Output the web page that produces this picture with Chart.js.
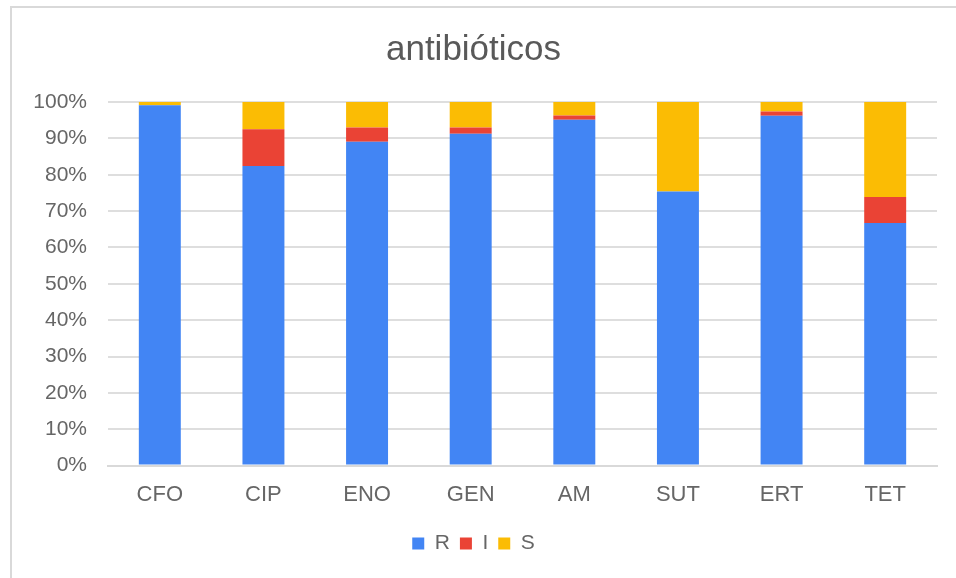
<!DOCTYPE html>
<html>
<head>
<meta charset="utf-8">
<script src="https://cdn.jsdelivr.net/npm/chart.js@4"></script>
<style>
  html, body { margin: 0; padding: 0; background: #fff; overflow: hidden; }
  #wrap { position: relative; width: 956px; height: 578px; }
</style>
</head>
<body>
<div id="wrap"><canvas id="abChart" width="956" height="578"></canvas></div>
<script>
const categories = ["CFO", "CIP", "ENO", "GEN", "AM", "SUT", "ERT", "TET"];
const valuesR = [99.1, 82.4, 89.1, 91.3, 95.1, 75.4, 96.2, 66.7];
const valuesI = [0, 10.1, 3.9, 1.7, 1.2, 0, 1.2, 7.2];
const valuesS = [0.9, 7.5, 7.0, 7.0, 3.7, 24.6, 2.6, 26.1];
const seriesNames = ["R", "I", "S"];
const seriesColors = ["#4285F4", "#EA4335", "#FBBC04"];

const FONT = "'Liberation Sans', Arial, sans-serif";

// outer frame: only left and top edges are visible in the picture
const framePlugin = {
  id: "frame",
  beforeDraw(chart) {
    const { ctx } = chart;
    ctx.save();
    ctx.strokeStyle = "#d9d9d9";
    ctx.lineWidth = 2;
    ctx.beginPath();
    ctx.moveTo(11, 600);
    ctx.lineTo(11, 7);
    ctx.lineTo(960, 7);
    ctx.stroke();
    ctx.restore();
  }
};

const ctx = document.getElementById("abChart").getContext("2d");
new Chart(ctx, {
  type: "bar",
  data: {
    labels: categories,
    datasets: [valuesR, valuesI, valuesS].map((vals, i) => ({
      label: seriesNames[i],
      data: vals,
      backgroundColor: seriesColors[i],
      borderWidth: 0,
      categoryPercentage: 1,
      barPercentage: 0.405
    }))
  },
  plugins: [framePlugin],
  options: {
    responsive: false,
    animation: false,
    layout: { padding: { left: 10, right: 19, top: 0, bottom: 14 } },
    plugins: {
      title: {
        display: true,
        text: "antibióticos",
        color: "#595959",
        font: { family: FONT, size: 35, weight: "normal" },
        padding: { top: 29, bottom: 31 }
      },
      legend: {
        position: "bottom",
        labels: {
          boxWidth: 12,
          boxHeight: 12,
          color: "#666",
          padding: 10,
          font: { family: FONT, size: 21 }
        }
      },
      tooltip: { enabled: false }
    },
    scales: {
      x: {
        stacked: true,
        afterFit(scale) { scale.height += 7; },
        grid: { display: false },
        border: { color: "#d9d9d9", width: 2 },
        ticks: {
          color: "#666",
          padding: 8,
          font: { family: FONT, size: 22 }
        }
      },
      y: {
        stacked: true,
        min: 0,
        max: 100,
        afterFit(scale) { scale.width = 98; },
        grid: { color: "#dedede", lineWidth: 2, drawTicks: false },
        border: { display: false },
        ticks: {
          stepSize: 10,
          color: "#666",
          padding: 21,
          font: { family: FONT, size: 21 },
          callback: (v) => v + "%"
        }
      }
    }
  }
});
</script>
</body>
</html>
